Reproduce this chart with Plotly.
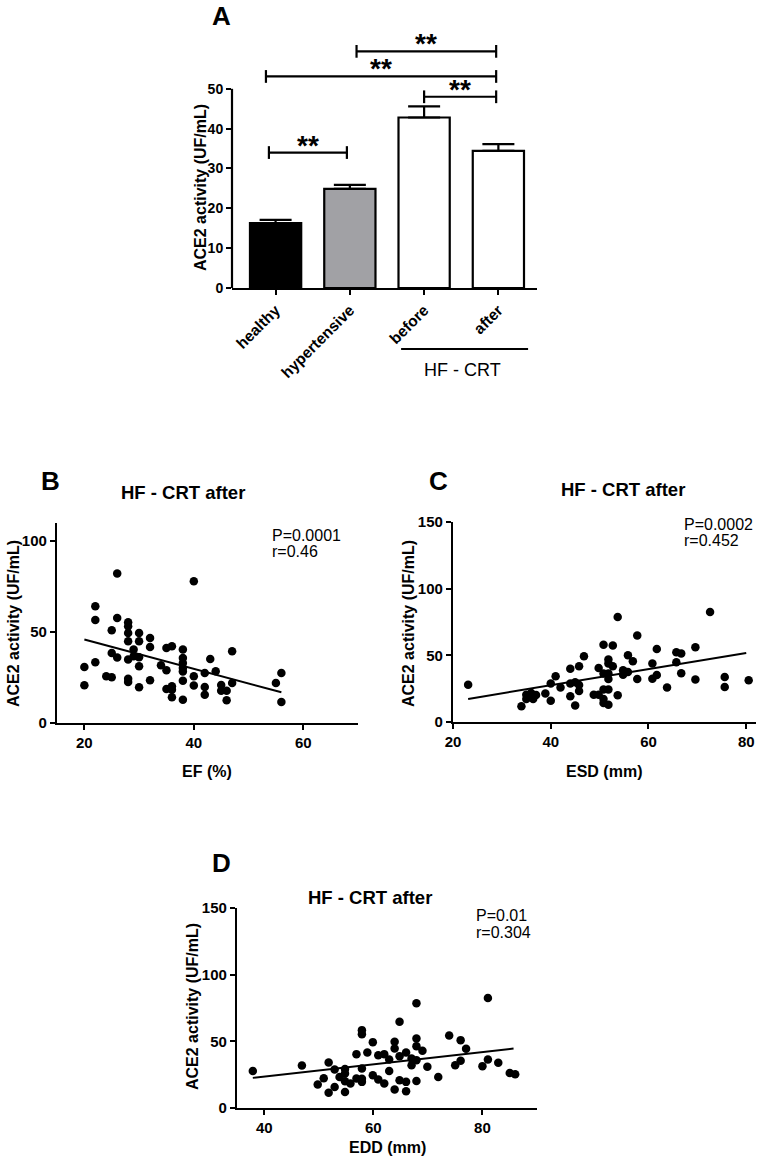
import plotly.graph_objects as go

W, H = 759, 1159
FONT = "Liberation Sans"

# ---------------- Panel A data ----------------
groups = ["healthy", "hypertensive", "before", "after"]
means = [16.3, 24.9, 42.8, 34.4]
sem = [0.8, 1.0, 2.8, 1.7]
bar_colors = ["#000000", "#a1a1a5", "#ffffff", "#ffffff"]

bracket_x0 = [-0.09, 2.0, -0.13, 1.09]
bracket_x1 = [0.96, 2.97, 2.97, 2.97]
bracket_y = [34.0, 48.0, 53.1, 59.4]
bracket_label = ["**", "**", "**", "**"]

# ---------------- Panel B data (EF) ----------------
ef = [20, 20, 22, 22, 22, 24, 25, 25, 25, 26, 26, 26, 28, 28, 28, 28, 28, 28, 28, 29, 29,
      30, 30, 30, 30, 30, 32, 32, 32, 34, 35, 35, 35, 36, 36, 36, 36, 38, 38, 38, 38, 38, 38, 38,
      40, 40, 40, 42, 42, 42, 43, 44, 45, 45, 46, 46, 47, 47, 55, 56, 56]
ace_b = [30.8, 20.7, 33.4, 56.7, 64.2, 25.7, 25.1, 51, 38.5, 82.2, 57.8, 36, 55.4, 53.2, 49.5, 45,
         34.9, 24.4, 22.6, 40.4, 36.7, 49.5, 45, 36.1, 31.2, 19.6, 46.8, 41.8, 23.5, 31.7, 29, 41.3,
         18.7, 42.2, 20.2, 18.3, 14.1, 40.4, 35.8, 33, 30.3, 28.3, 23.3, 12.8, 78, 25.7, 20.6, 27.5,
         19.8, 15.6, 35.2, 28.4, 20.9, 17.8, 17.8, 12.5, 39.4, 22, 22, 27.5, 11.6]
fit_b_x = [20, 56]
fit_b_y = [45.9, 16.9]

# ---------------- Panel C data (ESD) ----------------
esd = [23.1, 34, 35, 35, 35.7, 36, 36.4, 37, 38.9, 40, 40, 41, 42, 44, 44, 44, 45, 45, 45.8, 45.8,
       45.8, 46.8, 48.8, 49.8, 49.8, 50.8, 50.8, 50.8, 50.8, 50.8, 51.8, 51.8, 51.8, 51.8, 51.8,
       51.8, 52.7, 52.7, 53.7, 53.7, 54.8, 54.8, 55.8, 55.8, 56.8, 57.7, 57.7, 60.8, 60.8, 61.7,
       61.7, 63.8, 65.7, 65.7, 66.7, 66.7, 69.6, 69.6, 72.6, 75.6, 75.6, 80.5]
ace_c = [28, 11.8, 17.3, 20.5, 18.8, 21.8, 17.3, 20.3, 21.3, 16, 28.8, 34.3, 25.8, 40, 28.8, 19.3,
         12.3, 29.8, 23.3, 41.8, 27.8, 49.3, 20.5, 40.5, 20.5, 58, 24.3, 17.3, 14.3, 36.3, 46.8,
         43.8, 36.3, 32.3, 24.3, 13, 57.3, 41.8, 78.8, 20, 38.8, 35.5, 50, 37.5, 45.5, 64.8, 32.3,
         43.8, 32.5, 54.8, 35.3, 25.8, 52.3, 44.8, 51.3, 36.5, 56, 31.8, 82.5, 33.8, 26.3, 31.3]
fit_c_x = [23.1, 80.0]
fit_c_y = [17.3, 51.8]

# ---------------- Panel D data (EDD) ----------------
edd = [37.9, 46.9, 49.8, 50.9, 51.8, 51.8, 52.9, 52.9, 53.8, 54.8, 54.8, 54.8, 54.8, 55.8, 56.9,
       56.9, 57.9, 57.9, 57.9, 57.9, 57.9, 58.9, 59.9, 59.9, 60.9, 60.9, 62, 62, 62.9, 62.9, 63.9,
       63.9, 63.9, 64.8, 64.8, 64.8, 66, 66, 66, 67, 67, 67.9, 67.9, 67.9, 67.9, 67.9, 69, 69.9,
       71.9, 73.9, 75, 76, 76, 77, 80, 81, 81, 82.9, 85, 86]
ace_d = [27.8, 31.9, 17.6, 22.3, 11.5, 34.1, 28.8, 15.8, 23.3, 12, 20.1, 29.3, 25.8, 18.3, 22.1,
         40.4, 19.6, 22, 29.6, 58.4, 55.4, 41.6, 24.6, 49.4, 21.3, 39.6, 40.4, 18.3, 27.8, 36.4,
         49.7, 44.6, 13.8, 64.7, 20.8, 38.9, 41.6, 19.6, 12.5, 32.1, 37.1, 78.5, 52.2, 46.4, 35.9,
         20.3, 42.9, 30.9, 23.3, 54.4, 32.1, 50.9, 35.4, 44.4, 31.4, 82.5, 36.4, 33.9, 26.3, 25.3]
fit_d_x = [37.9, 85.7]
fit_d_y = [22.6, 44.6]

ylabel = "ACE2 activity (UF/mL)"
scatter_title = "HF - CRT after"


def px_x(p):
    return p / W


def px_y(p):
    return 1 - p / H


fig = go.Figure()

# ---- Panel A bars
fig.add_trace(go.Bar(
    x=list(range(len(groups))), y=means, width=0.69,
    marker=dict(color=bar_colors, line=dict(color="black", width=2.2)),
    error_y=dict(type="data", symmetric=False, array=sem, arrayminus=[0] * len(sem),
                 color="black", thickness=2.2, width=16),
    xaxis="x", yaxis="y", showlegend=False,
))
# significance brackets
tick_h = 1.6
for x0, x1, yb in zip(bracket_x0, bracket_x1, bracket_y):
    fig.add_trace(go.Scatter(
        x=[x0, x0, None, x0, x1, None, x1, x1],
        y=[yb - tick_h, yb + tick_h, None, yb, yb, None, yb - tick_h, yb + tick_h],
        mode="lines", line=dict(color="black", width=2.2),
        xaxis="x", yaxis="y", showlegend=False, hoverinfo="skip"))
for x0, x1, yb, lab in zip(bracket_x0, bracket_x1, bracket_y, bracket_label):
    fig.add_annotation(x=(x0 + x1) / 2, y=yb, xref="x", yref="y", text="<b>" + lab + "</b>",
                       showarrow=False, yanchor="bottom", yshift=-10,
                       font=dict(family=FONT, size=28, color="black"))

# ---- scatter panels
panels = [
    (ef, ace_b, fit_b_x, fit_b_y, "x2", "y2"),
    (esd, ace_c, fit_c_x, fit_c_y, "x3", "y3"),
    (edd, ace_d, fit_d_x, fit_d_y, "x4", "y4"),
]
for xs, ys, fx, fy, xa, ya in panels:
    fig.add_trace(go.Scatter(x=xs, y=ys, mode="markers",
                             marker=dict(color="black", size=8.5),
                             xaxis=xa, yaxis=ya, showlegend=False, cliponaxis=False))
    fig.add_trace(go.Scatter(x=fx, y=fy, mode="lines",
                             line=dict(color="black", width=2),
                             xaxis=xa, yaxis=ya, showlegend=False))

tickfont_a = dict(family=FONT, size=14, color="black", weight="bold")
tickfont_cat = dict(family=FONT, size=15.5, color="black", weight="bold")
tickfont_s = dict(family=FONT, size=15, color="black", weight="bold")
base = dict(showline=True, linecolor="black", linewidth=2.2, ticks="outside",
            ticklen=5, tickwidth=2.2, tickcolor="black", showgrid=False,
            zeroline=False, automargin=False)

fig.update_layout(
    width=W, height=H, margin=dict(l=0, r=0, t=0, b=0, autoexpand=False),
    paper_bgcolor="white", plot_bgcolor="white",
    font=dict(family=FONT, color="black"),
    # Panel A
    xaxis=dict(domain=[px_x(232), px_x(537)], range=[-0.587, 3.52], anchor="y",
               tickvals=list(range(len(groups))), ticktext=groups, tickangle=-45,
               tickfont=tickfont_cat, **base),
    yaxis=dict(domain=[px_y(288), px_y(41)], range=[0, 62], anchor="x",
               tickvals=[0, 10, 20, 30, 40, 50], showline=False, ticks="outside",
               ticklen=5, tickwidth=2.2, tickcolor="black", showgrid=False, zeroline=False,
               tickfont=tickfont_a, automargin=False),
    # Panel B
    xaxis2=dict(domain=[px_x(57), px_x(358)], range=[15, 70], anchor="y2",
                tickvals=[20, 40, 60], tickfont=tickfont_s, **base),
    yaxis2=dict(domain=[px_y(723), px_y(523)], range=[0, 110], anchor="x2",
                tickvals=[0, 50, 100], tickfont=tickfont_s, **base),
    # Panel C
    xaxis3=dict(domain=[px_x(453), px_x(756)], range=[20, 82], anchor="y3",
                tickvals=[20, 40, 60, 80], tickfont=tickfont_s, **base),
    yaxis3=dict(domain=[px_y(722), px_y(522)], range=[0, 150], anchor="x3",
                tickvals=[0, 50, 100, 150], tickfont=tickfont_s, **base),
    # Panel D
    xaxis4=dict(domain=[px_x(237), px_x(537)], range=[35, 90], anchor="y4",
                tickvals=[40, 60, 80], tickfont=tickfont_s, **base),
    yaxis4=dict(domain=[px_y(1108), px_y(908)], range=[0, 150], anchor="x4",
                tickvals=[0, 50, 100, 150], tickfont=tickfont_s, **base),
)

# y-axis line of panel A ends at 50
fig.add_shape(type="line", xref="x domain", yref="y", x0=0, x1=0, y0=0, y1=50,
              line=dict(color="black", width=2.2))

# HF - CRT group line in panel A
fig.add_shape(type="line", xref="x", yref="paper", x0=1.69, x1=3.4,
              y0=px_y(349), y1=px_y(349), line=dict(color="black", width=2.2))


def ann(text, x, y, size, bold=True, angle=0, xanchor="center", yanchor="middle"):
    fig.add_annotation(text=text, x=px_x(x), y=px_y(y), xref="paper", yref="paper",
                       showarrow=False, textangle=angle, xanchor=xanchor, yanchor=yanchor,
                       font=dict(family=FONT, size=size, color="black",
                                 weight="bold" if bold else "normal"))


# panel letters
ann("A", 222, 16, 26)
ann("B", 50, 481, 26)
ann("C", 438, 481, 26)
ann("D", 222, 863, 26)

# group label panel A
ann("HF - CRT", 462, 370, 18, bold=False)

# y titles
ann(ylabel, 200, 188, 16, angle=-90)
ann(ylabel, 13, 624, 16, angle=-90)
ann(ylabel, 408, 624, 16, angle=-90)
ann(ylabel, 192, 1007, 16, angle=-90)

# x titles
ann("EF (%)", 207, 772, 16)
ann("ESD (mm)", 604, 772, 16)
ann("EDD (mm)", 387, 1147, 16)

# scatter titles
ann(scatter_title, 183, 493, 18.5)
ann(scatter_title, 623, 489, 18.5)
ann(scatter_title, 370, 897, 18.5)

# statistics
stats = [("P=0.0001", "r=0.46", 270, 535), ("P=0.0002", "r=0.452", 682, 524),
         ("P=0.01", "r=0.304", 474, 915)]
for p, r, x, y in stats:
    ann(p, x, y, 16, bold=False, xanchor="left")
    ann(r, x, y + 17, 16, bold=False, xanchor="left")

fig.write_html("out.html", config={"displayModeBar": False},
               post_script="document.body.style.margin='0';document.body.style.padding='0';")
